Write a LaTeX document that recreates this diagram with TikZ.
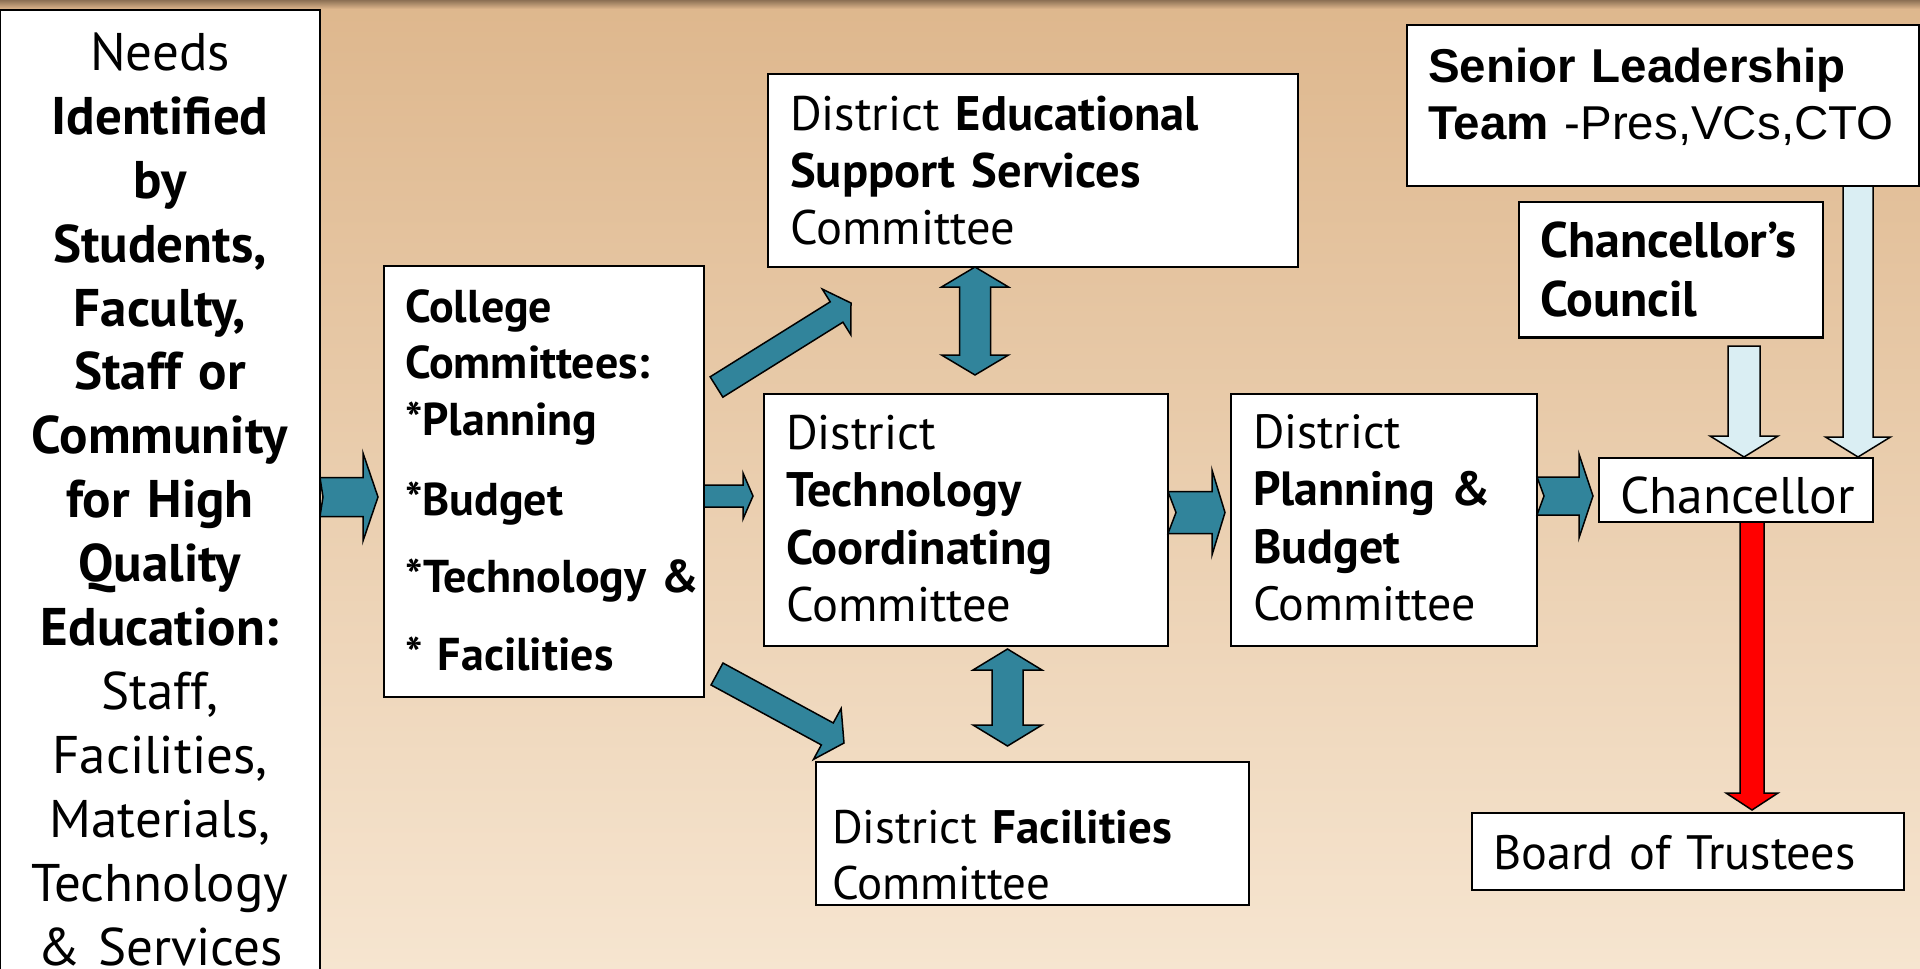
\documentclass[tikz,border=0pt]{standalone}
\usepackage{fontspec}
\setmainfont{PT Sans}
\newfontfamily\arialfont{Liberation Sans}
\usepackage{xcolor}
\usetikzlibrary{calc}
\definecolor{bgtop}{RGB}{222,183,141}
\definecolor{bgbot}{RGB}{246,229,208}
\definecolor{topshade}{RGB}{140,112,84}
\definecolor{tealarrow}{RGB}{49,132,155}
\definecolor{paleblue}{RGB}{218,238,243}
\tikzset{
  box/.style={draw=black,line width=2.5pt,fill=white,anchor=north west,inner sep=0pt,outer sep=0pt},
  txt/.style={anchor=base west,inner sep=0pt,align=left},
  tealarr/.style={fill=tealarrow,draw=black,line width=1.5pt},
  palearr/.style={fill=paleblue,draw=black,line width=1.5pt},
  redarr/.style={fill=red,draw=black,line width=1.5pt}
}
% [notch]{style}{from}{to}{shaft half width}{head half width}{head length}
\newcommand{\blockarrow}[7][0pt]{%
  \path (#3) coordinate (ba-s) (#4) coordinate (ba-e);
  \path ($(ba-e)!#7!(ba-s)$) coordinate (ba-h);
  \filldraw[#2] ($(ba-s)!#5!90:(ba-e)$) -- ($(ba-h)!#5!-90:(ba-s)$) -- ($(ba-h)!#6!-90:(ba-s)$) -- (ba-e)
    -- ($(ba-h)!#6!90:(ba-s)$) -- ($(ba-h)!#5!90:(ba-s)$) -- ($(ba-s)!#5!-90:(ba-e)$) -- ($(ba-s)!#1!(ba-e)$) -- cycle;
}
\newcommand{\dblarrow}[6]{%
  \path (#2) coordinate (ba-s) (#3) coordinate (ba-e);
  \path ($(ba-s)!#6!(ba-e)$) coordinate (ba-h1) ($(ba-e)!#6!(ba-s)$) coordinate (ba-h2);
  \filldraw[#1] (ba-s) -- ($(ba-h1)!#5!90:(ba-e)$) -- ($(ba-h1)!#4!90:(ba-e)$) -- ($(ba-h2)!#4!-90:(ba-s)$)
    -- ($(ba-h2)!#5!-90:(ba-s)$) -- (ba-e) -- ($(ba-h2)!#5!90:(ba-s)$) -- ($(ba-h2)!#4!90:(ba-s)$)
    -- ($(ba-h1)!#4!-90:(ba-e)$) -- ($(ba-h1)!#5!-90:(ba-e)$) -- cycle;
}
\begin{document}
\begin{tikzpicture}[x=1pt,y=-1pt]
  \useasboundingbox (0,0) rectangle (1920,969);
  \clip (0,0) rectangle (1920,969);
  \shade[top color=bgtop,bottom color=bgbot] (0,0) rectangle (1920,969);
  \shade[top color=topshade,bottom color=bgtop] (0,0) rectangle (1920,9);

  \node[box,minimum width=320pt,minimum height=990pt] (needs) at (0,10) {};
  \node[box,minimum width=320pt,minimum height=431pt] (college) at (384,266) {};
  \node[box,minimum width=530pt,minimum height=193pt] (edu) at (768,74) {};
  \node[box,minimum width=404pt,minimum height=252pt] (tech) at (764,394) {};
  \node[box,minimum width=306pt,minimum height=252pt] (plan) at (1231,394) {};
  \node[box,minimum width=433pt,minimum height=143pt] (fac) at (816,762) {};
  \node[box,minimum width=512pt,minimum height=161pt] (senior) at (1407,25) {};
  \node[box,minimum width=304pt,minimum height=135.5pt] (council) at (1519,202) {};
  \node[box,minimum width=274pt,minimum height=64pt] (chanc) at (1599,458) {};
  \node[box,minimum width=432pt,minimum height=77pt] (board) at (1472,813) {};

  \node[anchor=base,inner sep=0pt,text width=320pt,align=center,font={\fontsize{53}{64}\selectfont}] (needs-t)
    at ([yshift=-60pt]needs.north) {Needs\\\textbf{Identified}\\\textbf{by}\\\textbf{Students,}\\\textbf{Faculty,}\\\textbf{Staff or}\\
    \textbf{Community}\\\textbf{for High}\\\textbf{Quality}\\\textbf{Education:}\\Staff,\\Facilities,\\Materials,\\Technology\\\& Services};
  \node[txt,text width=295pt,font={\fontsize{46}{56.5}\selectfont\bfseries}] (college-t) at ([xshift=21pt,yshift=-56pt]college.north west)
    {College\\Committees:\\{*}Planning\\[23.5pt]*Budget\\[20.5pt]*Technology \&\\[21.5pt]* Facilities};
  \node[txt,text width=500pt,font={\fontsize{48.5}{57}\selectfont}] (edu-t) at ([xshift=22pt,yshift=-56pt]edu.north west)
    {District \textbf{Educational}\\\textbf{Support Services}\\Committee};
  \node[txt,text width=380pt,font={\fontsize{48.5}{57.5}\selectfont}] (tech-t) at ([xshift=22pt,yshift=-55pt]tech.north west)
    {District\\\textbf{Technology}\\\textbf{Coordinating}\\Committee};
  \node[txt,text width=280pt,font={\fontsize{48}{57.5}\selectfont}] (plan-t) at ([xshift=22pt,yshift=-54pt]plan.north west)
    {District\\\textbf{Planning \&}\\\textbf{Budget}\\Committee};
  \node[txt,text width=410pt,font={\fontsize{47}{56}\selectfont}] (fac-t) at ([xshift=16pt,yshift=-81pt]fac.north west)
    {District \textbf{Facilities}\\Committee};
  \node[txt,text width=490pt,font={\arialfont\fontsize{47.5}{57}\selectfont}] (senior-t) at ([xshift=21pt,yshift=-57pt]senior.north west)
    {\textbf{Senior Leadership}\\\textbf{Team} -Pres,VCs,CTO};
  \node[txt,text width=280pt,font={\fontsize{50}{59}\selectfont\bfseries}] (council-t) at ([xshift=21pt,yshift=-55pt]council.north west)
    {Chancellor’s\\Council};
  \node[txt,text width=250pt,font={\fontsize{51.5}{58}\selectfont}] (chanc-t) at ([xshift=21pt,yshift=-55.6pt]chanc.north west) {Chancellor};
  \node[txt,text width=410pt,font={\fontsize{48.3}{58}\selectfont}] (board-t) at ([xshift=21pt,yshift=-56pt]board.north west) {Board of Trustees};

  \coordinate (a1e) at ([xshift=-6pt,yshift=-15.5pt]college.west);
  \coordinate (a2e) at ([xshift=-11pt,yshift=24pt]tech.west);
  \coordinate (a3s) at ([xshift=12.5pt,yshift=94.5pt]college.east);
  \coordinate (a3e) at ([xshift=83pt,yshift=-36pt]edu.south west);
  \coordinate (a4s) at ([xshift=13pt,yshift=23pt]college.south east);
  \coordinate (a4e) at ([xshift=28pt,yshift=19pt]fac.north west);
  \coordinate (d1s) at ([xshift=-58pt]edu.south);
  \coordinate (d1e) at ([xshift=9pt,yshift=19pt]tech.north);
  \coordinate (d2s) at ([xshift=41.5pt,yshift=-3pt]tech.south);
  \coordinate (d2e) at ([xshift=-25pt,yshift=16pt]fac.north);
  \coordinate (a5s) at ([yshift=7.5pt]tech.east);
  \coordinate (a5e) at ([xshift=-6pt,yshift=7.5pt]plan.west);
  \coordinate (a6s) at ([yshift=24pt]plan.east);
  \coordinate (a6e) at ([xshift=-6pt,yshift=-6pt]chanc.west);
  \coordinate (a7s) at ([xshift=73pt,yshift=-8.5pt]council.south);
  \coordinate (a7e) at ([xshift=8pt,yshift=1pt]chanc.north);
  \coordinate (a8e) at ([xshift=-15pt,yshift=1pt]chanc.north east);
  \coordinate (a9e) at ([xshift=64pt,yshift=3pt]board.north);

  \blockarrow[3pt]{tealarr}{needs.east |- a1e}{a1e}{19.5pt}{44pt}{15pt}
  \blockarrow{tealarr}{college.east |- a2e}{a2e}{11pt}{23pt}{10pt}
  \blockarrow{tealarr}{a3s}{a3e}{12pt}{27pt}{17pt}
  \blockarrow{tealarr}{a4s}{a4e}{12.5pt}{29pt}{19pt}
  \dblarrow{tealarr}{d1s}{d1e}{15.5pt}{33.5pt}{20pt}
  \dblarrow{tealarr}{d2s}{d2e}{15.5pt}{34.5pt}{21pt}
  \blockarrow[8pt]{tealarr}{a5s}{a5e}{21pt}{42.5pt}{13pt}
  \blockarrow[7pt]{tealarr}{a6s}{a6e}{19pt}{42pt}{14pt}
  \blockarrow{palearr}{a7s}{a7e}{16pt}{34pt}{21pt}
  \blockarrow{palearr}{senior.south -| a8e}{a8e}{15pt}{32.5pt}{20pt}
  \blockarrow{redarr}{chanc.south -| a9e}{a9e}{12pt}{26pt}{17pt}
\end{tikzpicture}
\end{document}
